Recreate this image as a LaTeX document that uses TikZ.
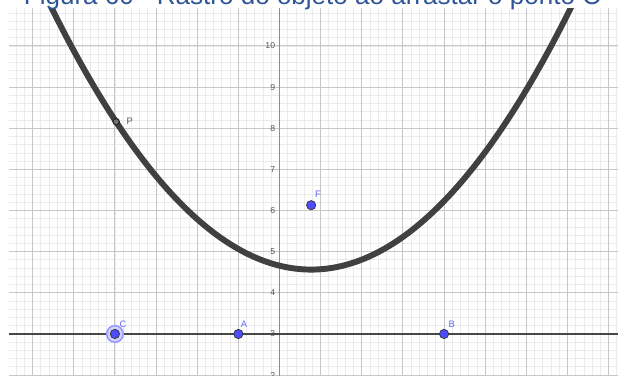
\documentclass[tikz,border=0pt]{standalone}
\usepackage{fontspec}
\setmainfont{Liberation Sans}
\definecolor{ptblue}{RGB}{77,77,255}
\definecolor{lblblue}{RGB}{102,102,255}
\definecolor{capblue}{RGB}{47,85,151}
\definecolor{halo}{RGB}{150,150,255}
\tikzset{
  minorgrid/.style={draw=black!8, line width=0.6pt},
  majorgrid/.style={draw=black!22, line width=0.7pt},
  yaxisline/.style={draw=black!45, line width=1pt},
  ylab/.style={anchor=east, inner sep=0pt, text=black!65, font=\fontsize{6}{7}\selectfont},
  directrix/.style={draw=black!72, line width=1.6pt},
  trace/.style={draw=black!75, line width=4.1pt},
  ptnode/.style={circle, fill=ptblue, draw=black!80, line width=0.5pt, minimum size=6.4pt, inner sep=0pt},
  ptlab/.style={anchor=south west, inner sep=0pt, text=lblblue, font=\fontsize{6.5}{7}\selectfont},
  pnode/.style={circle, fill=black!55, draw=black!85, line width=0.8pt, minimum size=4.4pt, inner sep=0pt},
  plab/.style={anchor=west, inner sep=0pt, text=black!65, font=\fontsize{6.5}{7}\selectfont},
  caption/.style={anchor=base west, inner sep=0pt, text=capblue, font=\fontsize{18}{20}\selectfont}
}
\begin{document}
\begin{tikzpicture}[x=1cm,y=1cm]
\useasboundingbox (-6.794,1.979) rectangle (8.228,11.118);
\fill[white] (-6.794,1.979) rectangle (8.228,11.118);
\begin{scope}
  \clip (-6.575,1.979) rectangle (8.228,10.915);
  \draw[minorgrid] (-7,1.8) grid[step=0.2] (8.6,11.2);
  \draw[majorgrid] (-7,1) grid[step=1] (9,12);
  \coordinate (ybot) at (0,1.9);
  \coordinate (ytop) at (0,11);
  \draw[yaxisline] (ybot) -- (ytop);
  \foreach \y in {2,...,10} {
    \node[ylab] (yl\y) at (-0.1,\y) {\y};
  }
  \coordinate (dl) at (-6.575,3);
  \coordinate (dr) at (8.3,3);
  \draw[directrix] (dl) -- (dr);
  \draw[trace] plot[domain=-5.95:7.5, samples=120] (\x, {(\x-0.77)^2/6.26+4.565});
\end{scope}
% C with selection halo
\node[circle, fill=halo!45, draw=halo, line width=1pt, minimum size=11.5pt, inner sep=0pt] (Chalo) at (-4,3) {};
\node[ptnode] (C) at (-4,3) {};
\node[ptnode] (A) at (-1,3) {};
\node[ptnode] (B) at (4,3) {};
\node[ptnode] (F) at (0.77,6.13) {};
\node[ptlab] (Clab) at ([xshift=3pt,yshift=4.2pt]C.center) {C};
\node[ptlab] (Alab) at ([xshift=1.5pt,yshift=4.2pt]A.center) {A};
\node[ptlab] (Blab) at ([xshift=3pt,yshift=4.2pt]B.center) {B};
\node[ptlab] (Flab) at ([xshift=2.5pt,yshift=5pt]F.center) {F};
\node[pnode] (P) at (-3.97,8.16) {};
\node[plab] (Plab) at ([xshift=7pt]P.center) {P};
% caption
\node[caption] (cap) at (-6.22,11.0) {Figura 60 - Rastro do objeto ao arrastar o ponto C};
\end{tikzpicture}
\end{document}
